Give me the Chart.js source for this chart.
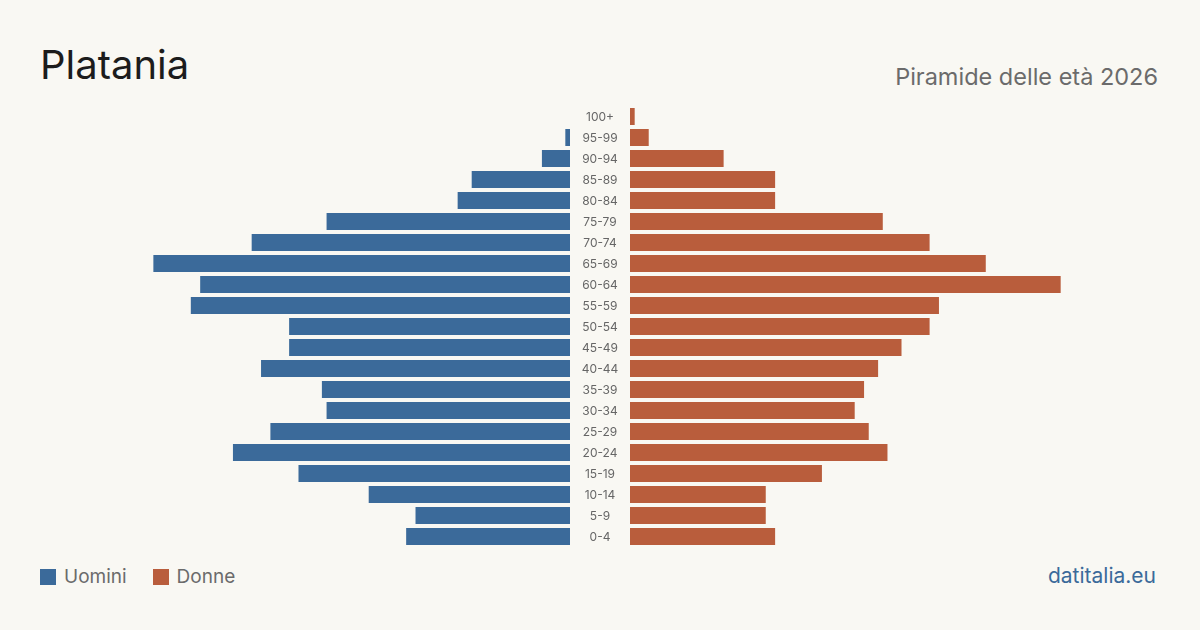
<!DOCTYPE html>
<html>
<head>
<meta charset="utf-8">
<script src="https://cdn.jsdelivr.net/npm/chart.js@4"></script>
<style>
  html, body { margin: 0; padding: 0; }
  body {
    width: 1200px; height: 630px; position: relative; overflow: hidden;
    background: #f9f8f3; font-family: Inter, "Noto Sans", sans-serif;
  }
  .title { position: absolute; left: 40px; top: 40px; font-size: 40px; color: #1c1c1c; }
  .subtitle { position: absolute; right: 42px; top: 62px; font-size: 23.5px; color: #6b6b6b; }
  .legend { position: absolute; left: 40px; top: 565px; font-size: 19px; color: #6b6b6b; display: flex; align-items: center; }
  .legend span.box { display: inline-block; width: 16px; height: 16px; margin-right: 8px; }
  .legend span.lbl { margin-right: 26px; }
  .source { position: absolute; right: 44px; top: 563px; font-size: 21px; color: #3b6a9a; }
  #leftWrap { position: absolute; left: 100px; top: 106px; width: 470px; height: 441px; }
  #rightWrap { position: absolute; left: 570px; top: 106px; width: 530px; height: 441px; }
</style>
</head>
<body>
<div class="title">Platania</div>
<div class="subtitle">Piramide delle età 2026</div>
<div id="leftWrap"><canvas id="leftChart"></canvas></div>
<div id="rightWrap"><canvas id="rightChart"></canvas></div>
<div class="legend">
  <span class="box" style="background:#3b6a9a"></span><span class="lbl">Uomini</span>
  <span class="box" style="background:#b95d3c"></span><span class="lbl">Donne</span>
</div>
<div class="source">datitalia.eu</div>
<script>
const ageGroups = ["100+", "95-99", "90-94", "85-89", "80-84", "75-79", "70-74", "65-69", "60-64", "55-59",
  "50-54", "45-49", "40-44", "35-39", "30-34", "25-29", "20-24", "15-19", "10-14", "5-9", "0-4"];
const men = [0, 1, 6, 21, 24, 52, 68, 89, 79, 81, 60, 60, 66, 53, 52, 64, 72, 58, 43, 33, 35];
const women = [1, 4, 20, 31, 31, 54, 64, 76, 92, 66, 64, 58, 53, 50, 48, 51, 55, 41, 29, 29, 31];

const axisMax = 100.4;
const menColor = "#3b6a9a";
const womenColor = "#b95d3c";

// age labels drawn in the gap between the two halves
const centerLabels = {
    id: 'centerLabels',
    afterDraw(chart) {
        const ctx = chart.ctx;
        const yScale = chart.scales.y;
        const x = chart.chartArea.left - 30;
        ctx.save();
        ctx.fillStyle = "#666666";
        ctx.font = "12px Inter, 'Noto Sans', sans-serif";
        ctx.textAlign = "center";
        ctx.textBaseline = "middle";
        ageGroups.forEach((label, i) => {
            ctx.fillText(label, x, yScale.getPixelForValue(i) + 1);
        });
        ctx.restore();
    }
};

const commonOptions = {
    indexAxis: 'y',
    responsive: true,
    maintainAspectRatio: false,
    animation: false,
    plugins: { legend: { display: false }, tooltip: { enabled: false } }
};

new Chart(document.getElementById("leftChart").getContext("2d"), {
    type: 'bar',
    data: {
        labels: ageGroups,
        datasets: [{
            label: "Uomini",
            data: men,
            backgroundColor: menColor,
            categoryPercentage: 1,
            barPercentage: 0.81
        }]
    },
    options: {
        ...commonOptions,
        layout: { padding: 0 },
        scales: {
            x: { display: false, min: 0, max: axisMax, reverse: true },
            y: { display: false }
        }
    }
});

new Chart(document.getElementById("rightChart").getContext("2d"), {
    type: 'bar',
    data: {
        labels: ageGroups,
        datasets: [{
            label: "Donne",
            data: women,
            backgroundColor: womenColor,
            categoryPercentage: 1,
            barPercentage: 0.81
        }]
    },
    options: {
        ...commonOptions,
        layout: { padding: { left: 60, right: 0, top: 0, bottom: 0 } },
        scales: {
            x: { display: false, min: 0, max: axisMax },
            y: { display: false }
        }
    },
    plugins: [centerLabels]
});
</script>
</body>
</html>
